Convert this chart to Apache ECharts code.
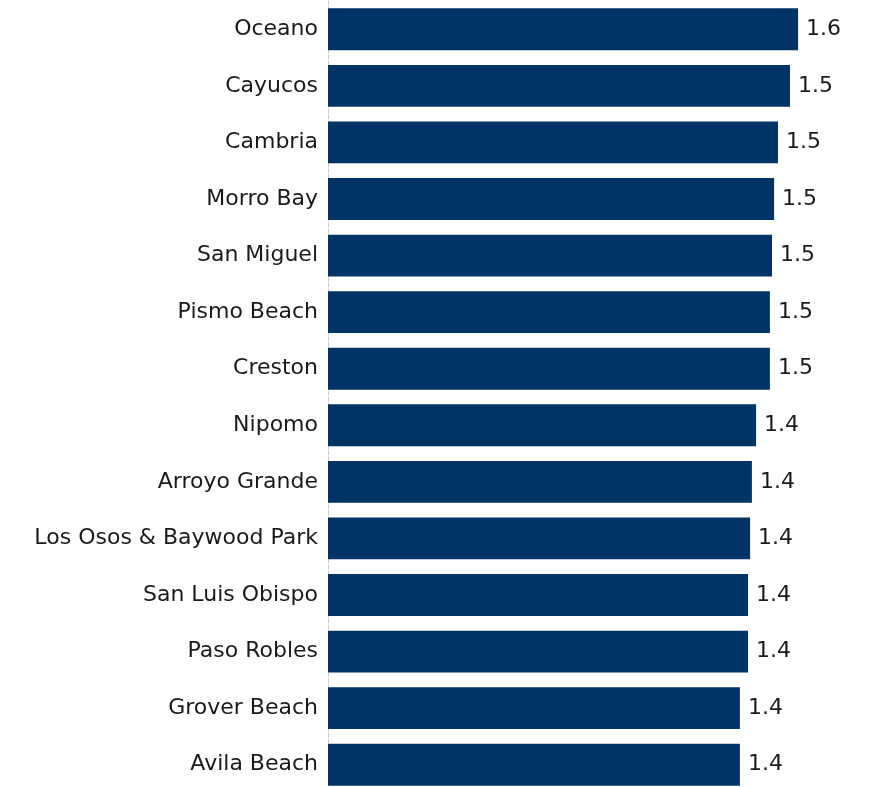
<!DOCTYPE html>
<html>
<head>
<meta charset="utf-8">
<script src="https://cdn.jsdelivr.net/npm/echarts@6/dist/echarts.min.js"></script>
<style>
  html, body { margin: 0; padding: 0; background: #fff; overflow: hidden; }
  #main { width: 886px; height: 793px; }
</style>
</head>
<body>
<div id="main"></div>
<script>
var myChart = echarts.init(document.getElementById('main'));

// top to bottom
var places = ['Oceano', 'Cayucos', 'Cambria', 'Morro Bay', 'San Miguel', 'Pismo Beach', 'Creston',
    'Nipomo', 'Arroyo Grande', 'Los Osos & Baywood Park', 'San Luis Obispo', 'Paso Robles',
    'Grover Beach', 'Avila Beach'];
var values = [1.567, 1.540, 1.500, 1.487, 1.480, 1.473, 1.473,
    1.427, 1.413, 1.407, 1.400, 1.400, 1.373, 1.373];

var option = {
    animation: false,
    textStyle: { fontFamily: 'DejaVu Sans' },
    grid: { left: 328, right: 18, top: 1, bottom: 0 },
    xAxis: {
        type: 'value',
        min: 0,
        max: 1.8,
        show: false
    },
    yAxis: {
        type: 'category',
        inverse: true,
        data: places,
        axisLine: { show: true, lineStyle: { color: '#c8c8c8', type: 'dashed', width: 1 } },
        axisTick: { show: false },
        axisLabel: { color: '#1a1a1a', fontSize: 22, margin: 10 }
    },
    series: [
        {
            type: 'bar',
            data: values,
            barCategoryGap: '26%',
            itemStyle: { color: '#003366' },
            label: {
                show: true,
                position: 'right',
                distance: 8,
                color: '#1a1a1a',
                fontSize: 22,
                formatter: function (p) { return p.value.toFixed(1); }
            }
        }
    ]
};

myChart.setOption(option);
</script>
</body>
</html>
